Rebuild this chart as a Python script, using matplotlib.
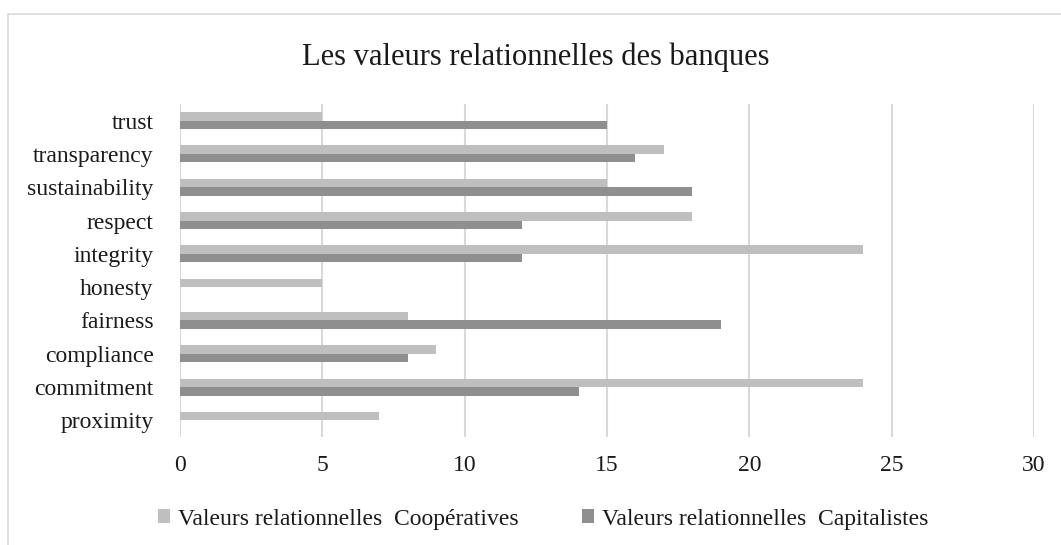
import matplotlib
matplotlib.use('Agg')
import matplotlib.pyplot as plt
from matplotlib.patches import Rectangle
import numpy as np

categories = ['proximity', 'commitment', 'compliance', 'fairness', 'honesty',
              'integrity', 'respect', 'sustainability', 'transparency', 'trust']
coop = [7, 24, 9, 8, 5, 24, 18, 15, 17, 5]
capi = [0, 14, 8, 19, 0, 12, 12, 18, 16, 15]
label_coop = 'Valeurs relationnelles  Coopératives'
label_capi = 'Valeurs relationnelles  Capitalistes'
title = 'Les valeurs relationnelles des banques'

LIGHT = '#bfbfbf'
DARK = '#8f8f8f'
GRID = '#d9d9d9'

plt.rcParams['font.family'] = ['Liberation Serif', 'DejaVu Serif']

fig = plt.figure(figsize=(10.61, 5.45), dpi=100)
fig.patch.set_facecolor('white')
W, H = 1061, 545

# chart frame (cut off on the right and bottom like the source)
fig.patches.append(Rectangle((8 / W, -0.1), 1.2, (H - 13.5) / H + 0.1,
                             transform=fig.transFigure, fill=False,
                             edgecolor=GRID, linewidth=1.2))

ax = fig.add_axes([180 / W, 1 - 437 / H, (1034 - 180) / W, (437 - 104) / H])

y = np.arange(len(categories))
h = 0.255
ax.barh(y + h / 2, coop, height=h, color=LIGHT, label=label_coop)
ax.barh(y - h / 2, capi, height=h, color=DARK, label=label_capi)

ax.set_xlim(0, 30)
ax.set_ylim(-0.5, len(categories) - 0.5)
ax.set_xticks(range(0, 31, 5))
ax.set_yticks(y)
ax.set_yticklabels(categories)
ax.tick_params(length=0, labelsize=17, colors='#1a1a1a')
ax.tick_params(axis='y', pad=19)
ax.tick_params(axis='x', pad=13)
ax.grid(axis='x', color=GRID, linewidth=1.5)
ax.set_axisbelow(True)
for s in ax.spines.values():
    s.set_visible(False)

fig.text(536 / W, 1 - 57 / H, title, ha='center', va='center', fontsize=22,
         color='#1a1a1a')

fig.legend(loc='center', bbox_to_anchor=(543 / W, 1 - 519 / H), ncol=2,
           frameon=False, fontsize=17, handlelength=0.5, handleheight=0.5,
           handletextpad=0.34, columnspacing=2.7, labelcolor='#1a1a1a',
           borderpad=0, borderaxespad=0)

fig.savefig('out.png', dpi=100, facecolor='white')
